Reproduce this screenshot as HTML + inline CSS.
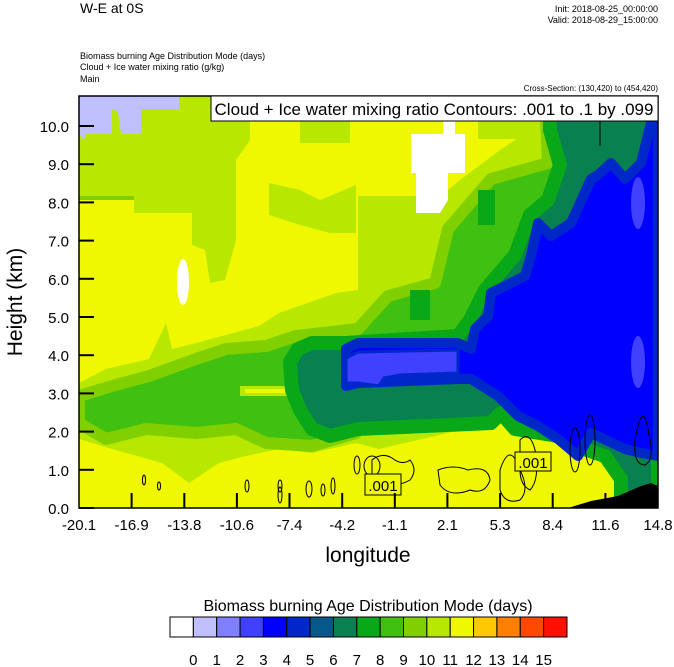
<!DOCTYPE html>
<html><head><meta charset="utf-8"><style>
body{margin:0;background:#fff;}
svg{display:block;font-family:"Liberation Sans",Arial,sans-serif;}
</style></head><body>
<svg width="674" height="667" viewBox="0 0 674 667" xmlns="http://www.w3.org/2000/svg">
<defs><clipPath id="pc"><rect x="79" y="96" width="579" height="412"/></clipPath></defs>
<g clip-path="url(#pc)">
<rect x="79" y="96" width="579" height="412" fill="#f0f800"/>
<!-- lime top-left -->
<polygon fill="#b8e800" points="79,96 211,96 211,121 250,121 250,140 236,160 236,213 134,213 134,196 79,196"/>
<polygon fill="#b8e800" points="192,196 236,196 236,240 225,280 210,283 205,250 192,245"/>
<polygon fill="#b8e800" points="269,183 300,190 320,200 356,185 356,233 330,233 300,225 269,215"/>
<polygon fill="#b8e800" points="300,121 330,121 330,143 300,143"/>
<polygon fill="#b8e800" points="330,121 350,121 350,143 330,143"/>
<polygon fill="#80d000" points="79,196 134,196 134,200 79,200"/>
<!-- lavender -->
<polygon fill="#c0c0ff" points="79,96 179,96 179,109 141,109 141,134 121,134 118,112 112,109 112,134 86,134 84,140 79,134"/>
<!-- lime envelope -->
<polygon fill="#b8e800" points="79,383 106,369 149,359 166,323 172,349 196,343 259,326 279,313 336,293 358,290 358,196 441,196 460,180 500,150 530,130 545,96 658,96 658,508 621,508 621,479 605,456 575,446 558,436 515,429 501,413 491,423 379,449 356,443 312,453 279,449 246,456 219,463 189,483 162,463 112,449 79,439"/>
<polygon fill="#b8e800" points="478,121 545,121 545,139 478,139"/>
<!-- green -->
<polygon fill="#40c010" stroke="#80d000" stroke-width="12" stroke-linejoin="round" points="545,96 658,96 658,508 621,508 621,479 605,456 575,446 558,436 515,429 501,413 491,423 358,429 356,433 312,446 266,443 236,429 196,433 146,429 106,439 79,423 79,396 112,386 149,376 196,359 226,349 266,346 296,336 358,329 388,296 435,283 448,229 491,179 548,163"/>
<polygon fill="#08a818" points="410,290 430,290 430,320 410,320"/>
<polygon fill="#08a818" points="478,190 495,190 495,225 478,225"/>
<rect x="240" y="386" width="60" height="10" fill="#b8e800"/>
<rect x="245" y="389" width="50" height="4" fill="#f0f800"/>
<!-- teal -->
<polygon fill="#088050" stroke="#08a818" stroke-width="14" stroke-linejoin="round" points="290,362 298,349 312,343 346,343 458,336 470,320 485,290 515,255 530,215 548,200 560,165 550,130 550,96 658,96 658,508 621,508 621,479 605,456 575,446 558,436 515,429 501,413 491,423 358,429 330,436 312,429 300,410 292,390"/>
<!-- blue -->
<polygon fill="#0000ff" stroke="#0028c8" stroke-width="10" stroke-linejoin="round" points="591,179 571,223 551,236 538,223 531,256 525,276 491,293 488,316 475,329 471,349 458,343 358,343 346,349 346,386 358,383 458,379 471,379 498,396 518,416 538,426 558,439 578,456 591,433 625,449 641,453 658,456 658,123 651,123 641,163 625,179 611,163 598,175"/>
<polygon fill="#4040ff" stroke="#0028c8" stroke-width="3" points="346,358 358,352 458,350 458,373 400,375 384,378 379,386 358,383 346,383"/>
<ellipse cx="638" cy="203" rx="7" ry="26" fill="#4040ff"/>
<ellipse cx="638" cy="362" rx="7" ry="26" fill="#4040ff"/>
<!-- whites -->
<ellipse cx="183" cy="282" rx="6" ry="23" fill="#fff"/>
<polygon fill="#fff" points="443,121 455,121 455,134 465,134 465,173 448,173 448,200 440,213 416,213 416,173 411,173 411,134 443,134"/>
<!-- terrain -->
<polygon fill="#000" points="568,508 591,501 618,496 641,486 651,483 658,486 658,508"/>
<!-- contours -->
<g fill="none" stroke="#000" stroke-width="1">
<ellipse cx="144" cy="480" rx="1.5" ry="5"/>
<ellipse cx="159" cy="486" rx="1.5" ry="4"/>
<ellipse cx="247" cy="486" rx="2" ry="6"/>
<ellipse cx="280" cy="495" rx="2" ry="8"/>
<ellipse cx="280" cy="486" rx="2" ry="6"/>
<ellipse cx="309" cy="489" rx="3" ry="8"/>
<ellipse cx="323" cy="490" rx="2" ry="6"/>
<ellipse cx="333" cy="486" rx="2" ry="8"/>
<ellipse cx="357" cy="465" rx="3" ry="9"/>
<ellipse cx="372" cy="466" rx="8" ry="10"/>
<path d="M372,460 q10,-8 20,-2 q10,8 18,2 q8,10 0,20 q-10,6 -22,4 q-12,6 -16,-8 z"/>
<path d="M438,470 q15,-6 30,0 q20,-5 22,10 q-5,15 -20,10 q-20,8 -30,-5 z"/>
<path d="M500,470 q10,-30 20,0 q10,20 0,30 q-15,5 -20,-10 z"/>
<path d="M520,440 q10,-10 15,10 q5,30 -5,40 q-10,-5 -10,-20 z"/>
<ellipse cx="575" cy="450" rx="5" ry="22"/>
<ellipse cx="590" cy="440" rx="5" ry="25"/>
<path d="M635,440 q8,-45 14,-5 q6,25 -4,30 q-12,0 -10,-25 z"/>
<path d="M600,101 l0,45"/>
</g>
<rect x="365" y="474" width="36" height="21" fill="#f0f800" stroke="#000"/>
<text x="383" y="491" font-size="15" text-anchor="middle">.001</text>
<rect x="515" y="452" width="36" height="19" fill="#f0f800" stroke="#000"/>
<text x="533" y="468" font-size="15" text-anchor="middle">.001</text>
</g>
<rect x="79" y="96" width="579" height="412" fill="none" stroke="#000" stroke-width="1.5"/>
<rect x="211" y="96" width="447" height="25" fill="#fff" stroke="#000"/>
<text x="434" y="115" font-size="17" text-anchor="middle">Cloud + Ice water mixing ratio Contours: .001 to .1 by .099</text>
<g stroke="#000" stroke-width="2">
<line x1="79" y1="508" x2="94" y2="508"/><line x1="79" y1="469.8" x2="94" y2="469.8"/><line x1="79" y1="431.6" x2="94" y2="431.6"/><line x1="79" y1="393.4" x2="94" y2="393.4"/><line x1="79" y1="355.2" x2="94" y2="355.2"/><line x1="79" y1="317" x2="94" y2="317"/><line x1="79" y1="278.8" x2="94" y2="278.8"/><line x1="79" y1="240.6" x2="94" y2="240.6"/><line x1="79" y1="202.4" x2="94" y2="202.4"/><line x1="79" y1="164.2" x2="94" y2="164.2"/><line x1="79" y1="126" x2="94" y2="126"/>
<line x1="131.6" y1="508" x2="131.6" y2="493"/><line x1="184.3" y1="508" x2="184.3" y2="493"/><line x1="236.9" y1="508" x2="236.9" y2="493"/><line x1="289.5" y1="508" x2="289.5" y2="493"/><line x1="342.2" y1="508" x2="342.2" y2="493"/><line x1="394.8" y1="508" x2="394.8" y2="493"/><line x1="447.4" y1="508" x2="447.4" y2="493"/><line x1="500.1" y1="508" x2="500.1" y2="493"/><line x1="552.7" y1="508" x2="552.7" y2="493"/><line x1="605.4" y1="508" x2="605.4" y2="493"/>
</g>
<g font-size="15" text-anchor="end">
<text x="69" y="514">0.0</text><text x="69" y="475.8">1.0</text><text x="69" y="437.6">2.0</text><text x="69" y="399.4">3.0</text><text x="69" y="361.2">4.0</text><text x="69" y="323">5.0</text><text x="69" y="284.8">6.0</text><text x="69" y="246.6">7.0</text><text x="69" y="208.4">8.0</text><text x="69" y="170.2">9.0</text><text x="69" y="132">10.0</text>
</g>
<g font-size="15" text-anchor="middle">
<text x="79" y="530">-20.1</text><text x="131.6" y="530">-16.9</text><text x="184.3" y="530">-13.8</text><text x="236.9" y="530">-10.6</text><text x="289.5" y="530">-7.4</text><text x="342.2" y="530">-4.2</text><text x="394.8" y="530">-1.1</text><text x="447.4" y="530">2.1</text><text x="500.1" y="530">5.3</text><text x="552.7" y="530">8.4</text><text x="605.4" y="530">11.6</text><text x="658" y="530">14.8</text>
</g>
<text x="368" y="562" font-size="21" text-anchor="middle">longitude</text>
<text transform="translate(22,302) rotate(-90)" font-size="21" text-anchor="middle">Height (km)</text>
<text x="80" y="13" font-size="14">W-E at 0S</text>
<text x="658" y="12" font-size="9" text-anchor="end">Init: 2018-08-25_00:00:00</text>
<text x="658" y="23" font-size="9" text-anchor="end">Valid: 2018-08-29_15:00:00</text>
<text x="80" y="59" font-size="9">Biomass burning Age Distribution Mode    (days)</text>
<text x="80" y="70" font-size="9">Cloud + Ice water mixing ratio    (g/kg)</text>
<text x="80" y="82" font-size="9">Main</text>
<text x="658" y="91" font-size="8" text-anchor="end">Cross-Section: (130,420) to (454,420)</text>
<text x="368" y="611" font-size="16" text-anchor="middle">Biomass burning Age Distribution Mode  (days)</text>
<g stroke="#000" stroke-width="1">
<rect x="170" y="617" width="23.35" height="20" fill="#ffffff"/>
<rect x="193.35" y="617" width="23.35" height="20" fill="#c0c0ff"/>
<rect x="216.7" y="617" width="23.35" height="20" fill="#8080ff"/>
<rect x="240.05" y="617" width="23.35" height="20" fill="#4040ff"/>
<rect x="263.4" y="617" width="23.35" height="20" fill="#0000ff"/>
<rect x="286.75" y="617" width="23.35" height="20" fill="#0028c8"/>
<rect x="310.1" y="617" width="23.35" height="20" fill="#06588a"/>
<rect x="333.45" y="617" width="23.35" height="20" fill="#088050"/>
<rect x="356.8" y="617" width="23.35" height="20" fill="#08a818"/>
<rect x="380.15" y="617" width="23.35" height="20" fill="#40c010"/>
<rect x="403.5" y="617" width="23.35" height="20" fill="#80d000"/>
<rect x="426.85" y="617" width="23.35" height="20" fill="#b8e800"/>
<rect x="450.2" y="617" width="23.35" height="20" fill="#f0f800"/>
<rect x="473.55" y="617" width="23.35" height="20" fill="#ffc800"/>
<rect x="496.9" y="617" width="23.35" height="20" fill="#ff8000"/>
<rect x="520.25" y="617" width="23.35" height="20" fill="#ff4800"/>
<rect x="543.6" y="617" width="23.4" height="20" fill="#ff1000"/>
</g>
<g font-size="15" text-anchor="middle">
<text x="193.35" y="665">0</text><text x="216.7" y="665">1</text><text x="240.05" y="665">2</text><text x="263.4" y="665">3</text><text x="286.75" y="665">4</text><text x="310.1" y="665">5</text><text x="333.45" y="665">6</text><text x="356.8" y="665">7</text><text x="380.15" y="665">8</text><text x="403.5" y="665">9</text><text x="426.85" y="665">10</text><text x="450.2" y="665">11</text><text x="473.55" y="665">12</text><text x="496.9" y="665">13</text><text x="520.25" y="665">14</text><text x="543.6" y="665">15</text>
</g>
</svg>
</body></html>
